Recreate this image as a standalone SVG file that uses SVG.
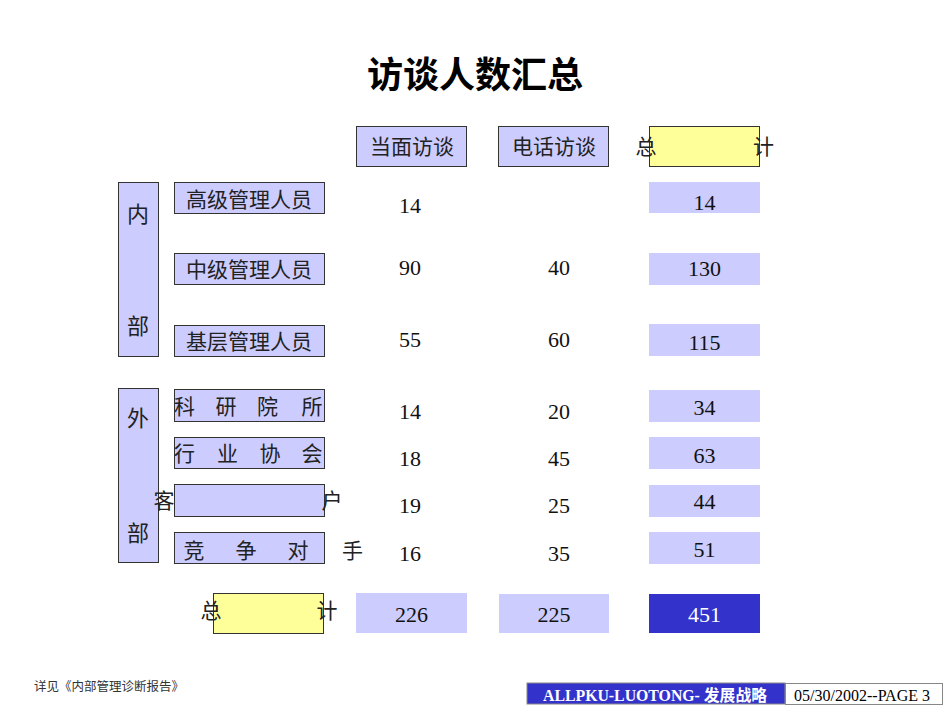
<svg xmlns="http://www.w3.org/2000/svg" width="950" height="713" viewBox="0 0 950 713">
<style>
.bg{fill:#ffffff}
.lb{fill:#ccccff;stroke:#333333;stroke-width:1}
.lbn{fill:#ccccff}
.yb{fill:#ffff99;stroke:#333333;stroke-width:1}
.db{fill:#3333cc}
.cj{font-family:"Noto Sans CJK SC","Noto Sans",sans-serif;font-size:21px;fill:#222222}
.cjc{font-family:"Noto Sans CJK SC","Noto Sans",sans-serif;font-size:21px;fill:#222222;text-anchor:middle}
.side{font-family:"Noto Sans CJK SC","Noto Sans",sans-serif;font-size:22px;fill:#222222;text-anchor:middle}
.num{font-family:"Liberation Serif","Times New Roman",serif;font-size:22px;fill:#111111;text-anchor:middle}
.title{font-family:"Noto Sans CJK SC","Noto Sans",sans-serif;font-size:36px;font-weight:bold;fill:#000000;text-anchor:middle}
.note{font-family:"Noto Sans CJK SC","Noto Sans",sans-serif;font-size:12.5px;fill:#333333}
.ft{font-family:"Liberation Serif","Noto Sans CJK SC",serif;font-size:16px}
</style>
<rect class="bg" x="0" y="0" width="950" height="713"/>

<g id="title"><text class="title" x="475" y="87.5">访谈人数汇总</text></g>

<g id="header-face"><rect class="lb" x="356.5" y="126.5" width="110" height="40"/><text class="cjc" x="412" y="154">当面访谈</text></g>
<g id="header-phone"><rect class="lb" x="498.5" y="126.5" width="110" height="40"/><text class="cjc" x="554" y="154">电话访谈</text></g>
<g id="header-total"><rect class="yb" x="649.5" y="126.5" width="110" height="40"/><text class="cjc" x="646" y="154">总</text><text class="cjc" x="763.5" y="154">计</text></g>

<g id="group-internal"><rect class="lb" x="118.5" y="182.5" width="40" height="174"/><text class="side" x="138" y="221.5">内</text><text class="side" x="138" y="333.5">部</text></g>
<g id="group-external"><rect class="lb" x="118.5" y="388.5" width="40" height="174"/><text class="side" x="138" y="426">外</text><text class="side" x="138" y="541">部</text></g>

<g id="row-senior"><rect class="lb" x="174.5" y="182.5" width="150" height="31"/><text class="cjc" x="249" y="206.5">高级管理人员</text></g>
<g id="row-middle"><rect class="lb" x="174.5" y="253.5" width="150" height="31"/><text class="cjc" x="249" y="277">中级管理人员</text></g>
<g id="row-base"><rect class="lb" x="174.5" y="325.5" width="150" height="31"/><text class="cjc" x="249" y="349">基层管理人员</text></g>
<g id="row-research"><rect class="lb" x="174.5" y="389.5" width="150" height="32"/><text class="cjc" y="414"><tspan x="184.5">科</tspan><tspan x="226">研</tspan><tspan x="267.5">院</tspan><tspan x="312">所</tspan></text></g>
<g id="row-assoc"><rect class="lb" x="174.5" y="437.5" width="150" height="31"/><text class="cjc" y="461"><tspan x="184.5">行</tspan><tspan x="227.5">业</tspan><tspan x="270">协</tspan><tspan x="312">会</tspan></text></g>
<g id="row-client"><rect class="lb" x="174.5" y="484.5" width="150" height="32"/><text class="cjc" y="508"><tspan x="164">客</tspan><tspan x="332">户</tspan></text></g>
<g id="row-rival"><rect class="lb" x="174.5" y="532.5" width="150" height="31"/><text class="cjc" y="558"><tspan x="194">竞</tspan><tspan x="246">争</tspan><tspan x="298">对</tspan><tspan x="352.5">手</tspan></text></g>
<g id="row-total"><rect class="yb" x="213.5" y="593.5" width="110" height="40"/><text class="cjc" x="211" y="618">总</text><text class="cjc" x="327" y="618">计</text></g>

<g id="col-face">
<text class="num" x="410" y="213">14</text>
<text class="num" x="410" y="275">90</text>
<text class="num" x="410" y="347">55</text>
<text class="num" x="410" y="419">14</text>
<text class="num" x="410" y="466">18</text>
<text class="num" x="410" y="513">19</text>
<text class="num" x="410" y="561">16</text>
</g>
<g id="col-phone">
<text class="num" x="559" y="275">40</text>
<text class="num" x="559" y="347">60</text>
<text class="num" x="559" y="419">20</text>
<text class="num" x="559" y="466">45</text>
<text class="num" x="559" y="513">25</text>
<text class="num" x="559" y="561">35</text>
</g>
<g id="col-total">
<rect class="lbn" x="649" y="182" width="111" height="31"/><text class="num" x="704.5" y="210">14</text>
<rect class="lbn" x="649" y="253" width="111" height="32"/><text class="num" x="704.5" y="276">130</text>
<rect class="lbn" x="649" y="324" width="111" height="32"/><text class="num" x="704.5" y="350">115</text>
<rect class="lbn" x="649" y="390" width="111" height="32"/><text class="num" x="704.5" y="415">34</text>
<rect class="lbn" x="649" y="437" width="111" height="32"/><text class="num" x="704.5" y="463">63</text>
<rect class="lbn" x="649" y="485" width="111" height="32"/><text class="num" x="704.5" y="509">44</text>
<rect class="lbn" x="649" y="532" width="111" height="32"/><text class="num" x="704.5" y="557">51</text>
</g>
<g id="sum-face"><rect class="lbn" x="356" y="593" width="111" height="40"/><text class="num" x="411.5" y="622">226</text></g>
<g id="sum-phone"><rect class="lbn" x="499" y="594" width="110" height="39"/><text class="num" x="554" y="622">225</text></g>
<g id="sum-total"><rect class="db" x="649" y="594" width="111" height="39"/><text class="num" x="704.5" y="622" style="fill:#ffffff">451</text></g>

<g id="connectors"/>

<g id="footer">
<text class="note" x="34" y="691">详见《内部管理诊断报告》</text>
<rect x="527" y="683" width="258" height="21" fill="#3333cc" stroke="#888888" stroke-width="1"/>
<text class="ft" x="543" y="700.5" fill="#ffffff" font-weight="bold" textLength="224" lengthAdjust="spacingAndGlyphs">ALLPKU-LUOTONG- 发展战略</text>
<rect x="785.5" y="683.5" width="157" height="21" fill="#ffffff" stroke="#888888" stroke-width="1"/>
<text class="ft" x="794" y="700.5" fill="#000000" textLength="136" lengthAdjust="spacingAndGlyphs">05/30/2002--PAGE 3</text>
</g>
</svg>
